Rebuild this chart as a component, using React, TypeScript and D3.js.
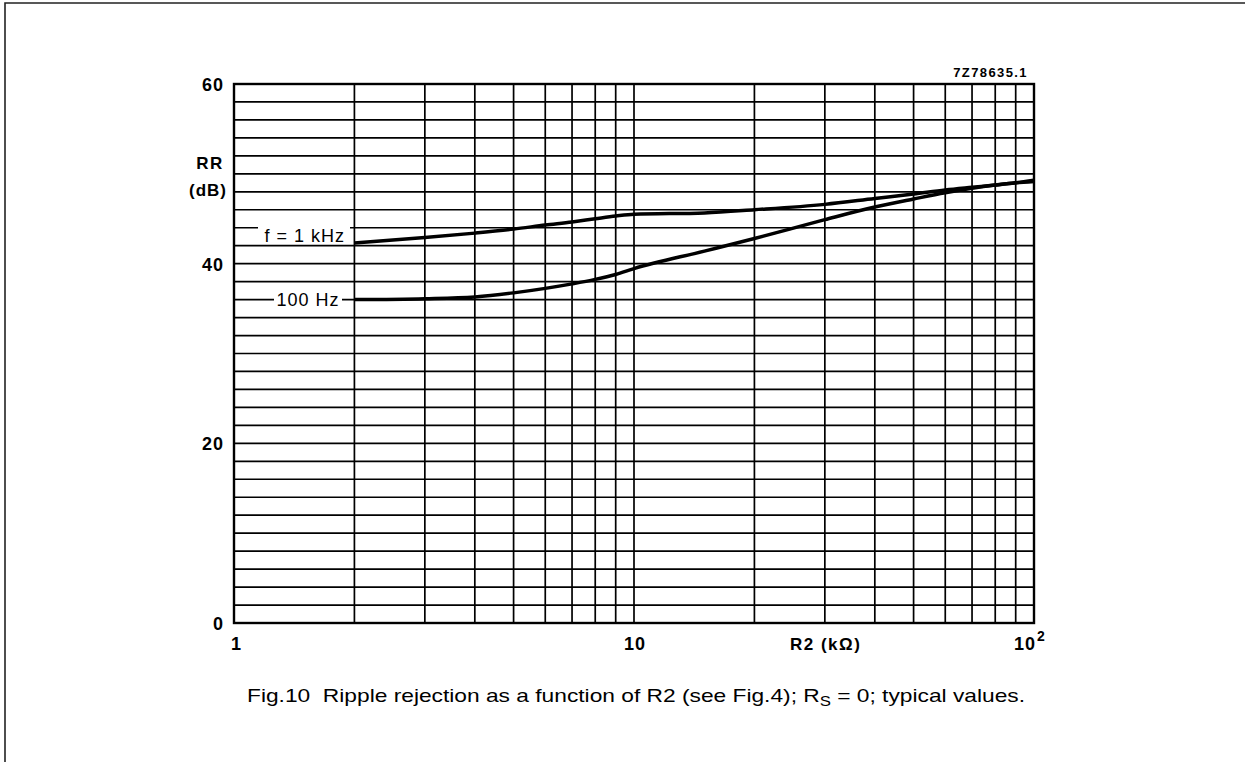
import React from "react";
import * as d3 from "d3";

const r2Values = [2, 3, 4, 5, 6, 7, 8, 9, 10, 15, 20, 30, 40, 50, 60, 70, 80, 90, 100];
const rr1kHz = [42.3, 42.9, 43.4, 43.85, 44.3, 44.65, 45.0, 45.3, 45.5, 45.65, 46.0, 46.6, 47.25, 47.75, 48.2, 48.5, 48.75, 49.0, 49.3];
const rr100Hz = [36.0, 36.1, 36.3, 36.75, 37.25, 37.75, 38.25, 38.8, 39.45, 41.4, 42.8, 44.9, 46.3, 47.2, 47.9, 48.4, 48.75, 49.0, 49.15];

const yTicks = [0, 20, 40, 60];
const xGrid = [1, 2, 3, 4, 5, 6, 7, 8, 9, 10, 20, 30, 40, 50, 60, 70, 80, 90, 100];
const yGrid = d3.range(0, 61, 2);

const W = 1245;
const H = 762;
const left = 234;
const right = 1034;
const top = 84;
const bottom = 623;

const x = d3.scaleLog().domain([1, 100]).range([left, right]);
const y = d3.scaleLinear().domain([0, 60]).range([bottom, top]);

const line = d3
  .line<number>()
  .x((_, i) => x(r2Values[i]))
  .y((d) => y(d))
  .curve(d3.curveMonotoneX);

const axisFont = "'Liberation Sans', Arial, sans-serif";

export default function App() {
  return (
    <svg
      width={W}
      height={H}
      style={{ position: "absolute", left: 0, top: 0, display: "block", background: "#fff" }}
    >
      <path d={`M5,${H} L5,3 L${W},3`} fill="none" stroke="#222" strokeWidth={1.6} />

      {/* grid */}
      {yGrid.map((v) => (
        <line key={"h" + v} x1={left} x2={right} y1={y(v)} y2={y(v)} stroke="#000" strokeWidth={1.7} />
      ))}
      {xGrid.map((v) => (
        <line key={"v" + v} x1={x(v)} x2={x(v)} y1={top} y2={bottom} stroke="#000" strokeWidth={1.7} />
      ))}
      <rect x={left} y={top} width={right - left} height={bottom - top} fill="none" stroke="#000" strokeWidth={2.4} />

      {/* label backgrounds breaking gridlines */}
      <rect x={258} y={y(44) - 4} width={92} height={8} fill="#fff" />
      <rect x={274} y={y(36) - 4} width={68} height={8} fill="#fff" />

      {/* curves */}
      <path d={line(rr1kHz) || ""} fill="none" stroke="#000" strokeWidth={3.5} />
      <path d={line(rr100Hz) || ""} fill="none" stroke="#000" strokeWidth={3.5} />

      {/* curve labels */}
      <text x={345} y={242} textAnchor="end" fontFamily={axisFont} fontSize={18} letterSpacing={1} fill="#000">
        f = 1 kHz
      </text>
      <text x={308} y={y(36) + 6} textAnchor="middle" fontFamily={axisFont} fontSize={18} letterSpacing={1} fill="#000">
        100 Hz
      </text>

      {/* y tick labels */}
      {yTicks.map((v) => (
        <text key={"yt" + v} x={224} y={y(v) + 7} textAnchor="end" fontFamily={axisFont} fontSize={18} fontWeight="bold" letterSpacing={1} fill="#000">
          {v}
        </text>
      ))}
      <text x={210} y={169} textAnchor="middle" fontFamily={axisFont} fontSize={17} fontWeight="bold" letterSpacing={1.5} fill="#000">
        RR
      </text>
      <text x={208} y={196} textAnchor="middle" fontFamily={axisFont} fontSize={17} fontWeight="bold" letterSpacing={1} fill="#000">
        (dB)
      </text>

      {/* x tick labels */}
      <text x={x(1) + 2} y={650} textAnchor="middle" fontFamily={axisFont} fontSize={18} fontWeight="bold" fill="#000">
        1
      </text>
      <text x={x(10) + 1} y={650} textAnchor="middle" fontFamily={axisFont} fontSize={18} fontWeight="bold" letterSpacing={1} fill="#000">
        10
      </text>
      <text x={1036} y={650} textAnchor="end" fontFamily={axisFont} fontSize={18} fontWeight="bold" letterSpacing={1} fill="#000">
        10
      </text>
      <text x={1037} y={641} textAnchor="start" fontFamily={axisFont} fontSize={14} fontWeight="bold" fill="#000">
        2
      </text>
      <text x={790} y={650} textAnchor="start" fontFamily={axisFont} fontSize={17} fontWeight="bold" letterSpacing={1.5} fill="#000">
        R2 (kΩ)
      </text>

      <text x={1028} y={77} textAnchor="end" fontFamily={axisFont} fontSize={13} fontWeight="bold" letterSpacing={1.4} fill="#000">
        7Z78635.1
      </text>

      {/* caption */}
      <text
        x={247}
        y={702}
        fontFamily={axisFont}
        fontSize={19}
        fill="#000"
        textLength={778}
        lengthAdjust="spacingAndGlyphs"
        style={{ whiteSpace: "pre" }}
      >
        {"Fig.10  Ripple rejection as a function of R2 (see Fig.4); R"}
        <tspan fontSize={14} dy={4}>S</tspan>
        <tspan dy={-4}>{" = 0; typical values."}</tspan>
      </text>
    </svg>
  );
}
